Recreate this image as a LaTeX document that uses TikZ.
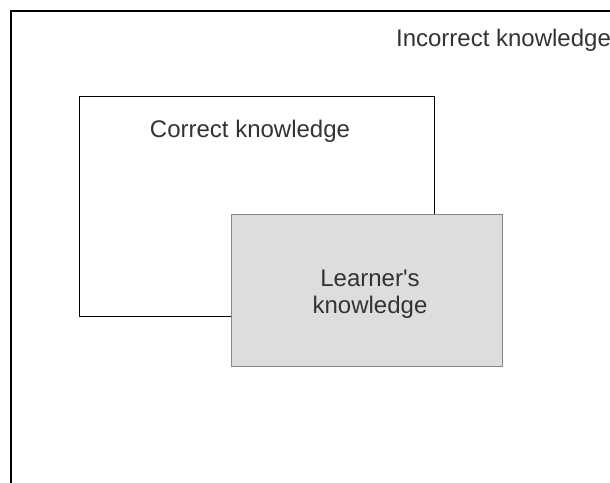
\documentclass[tikz,border=0pt]{standalone}
\usepackage{fontspec}
\setmainfont{Liberation Sans}[Ligatures=TeXOff]
\definecolor{txt}{HTML}{333333}
\definecolor{lfill}{HTML}{DDDDDD}
\definecolor{lborder}{HTML}{888888}
\begin{document}
\begin{tikzpicture}[x=0.75pt,y=-0.75pt,
  lbl/.style={text=txt,font=\fontsize{18}{21.5}\selectfont,inner sep=0pt,align=center},
  box/.style={draw=black,line width=0.8pt},
  lbox/.style={draw=lborder,fill=lfill,line width=1.1pt}]
\useasboundingbox (0,0) rectangle (610,482);
\clip (0,0) rectangle (610,482);
\fill[white] (0,0) rectangle (610,482);
\draw[line width=1.3pt] (11,700) -- (11,11) -- (700,11);
\node[box,minimum width=355*0.75pt,minimum height=220*0.75pt,anchor=north west,inner sep=0pt] (correct) at (79,96) {};
\node[lbox,minimum width=271*0.75pt,minimum height=152*0.75pt,anchor=north west,inner sep=0pt] (learner) at (231,214) {};
\node[lbl] (inc) at (503.5,40) {Incorrect knowledge};
\node[lbl] (cor) at (250,131) {Correct knowledge};
\node[lbl,text width=150pt] (lk) at (370,294) {Learner's\\[-1pt]knowledge};
\end{tikzpicture}
\end{document}
